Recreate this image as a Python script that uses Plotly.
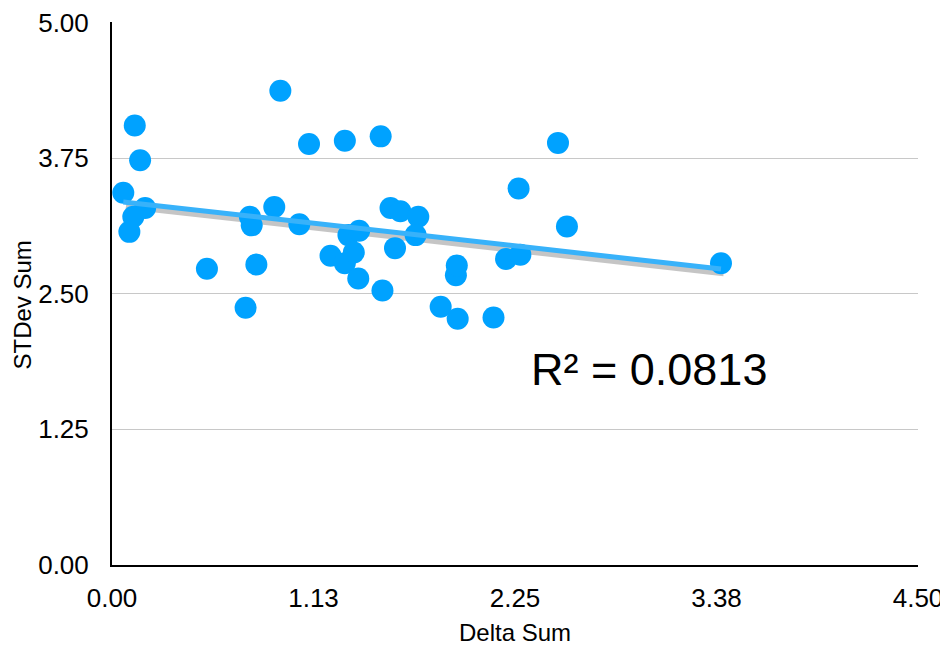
import numpy as np
import plotly.graph_objects as go

delta_sum = [0.063, 0.127, 0.157, 0.185, 0.119, 0.097, 0.53, 0.746, 0.77, 0.78,
             0.806, 0.906, 0.94, 1.046, 1.10, 1.22, 1.30, 1.30, 1.32, 1.35,
             1.38, 1.375, 1.50, 1.51, 1.555, 1.58, 1.61, 1.71, 1.695, 1.835,
             1.92, 1.925, 1.93, 2.13, 2.20, 2.27, 2.28, 2.49, 2.54, 3.40]
stdev_sum = [3.43, 4.05, 3.73, 3.29, 3.21, 3.07, 2.73, 2.37, 3.21, 3.13,
             2.77, 3.30, 4.37, 3.14, 3.88, 2.85, 3.91, 2.78, 3.04, 2.88,
             3.08, 2.64, 3.95, 2.53, 3.29, 2.92, 3.26, 3.21, 3.04, 2.38,
             2.67, 2.76, 2.27, 2.28, 2.82, 3.47, 2.86, 3.89, 3.12, 2.78]
x_ticks = [0, 1.125, 2.25, 3.375, 4.5]
x_tick_labels = ["0.00", "1.13", "2.25", "3.38", "4.50"]
y_ticks = [0, 1.25, 2.5, 3.75, 5.0]
y_tick_labels = ["0.00", "1.25", "2.50", "3.75", "5.00"]
r2_label = "R² = 0.0813"
x_title = "Delta Sum"
y_title = "STDev Sum"

xs = np.array(delta_sum)
ys = np.array(stdev_sum)
slope, intercept = np.polyfit(xs, ys, 1)
tx = np.array([xs.min(), xs.max()])
ty = slope * tx + intercept

FONT = "Liberation Sans, Arial, Helvetica, sans-serif"

fig = go.Figure()
fig.add_trace(go.Scatter(x=tx + 0.015, y=ty - 0.04, mode="lines",
                         line=dict(color="rgba(90,90,90,0.35)", width=6),
                         hoverinfo="skip", showlegend=False))
fig.add_trace(go.Scatter(x=delta_sum, y=stdev_sum, mode="markers",
                         marker=dict(color="#00a2ff", size=22, line=dict(width=0)),
                         showlegend=False))
fig.add_trace(go.Scatter(x=tx, y=ty, mode="lines",
                         line=dict(color="#38b2fa", width=5),
                         hoverinfo="skip", showlegend=False))

fig.add_annotation(x=2.33, y=1.80, xref="x", yref="y", text=r2_label,
                   showarrow=False, xanchor="left", yanchor="middle",
                   font=dict(family=FONT, size=45, color="black"))
fig.add_annotation(x=0.5, y=0, xref="paper", yref="paper", text=x_title,
                   showarrow=False, xanchor="center", yanchor="middle", yshift=-67,
                   font=dict(family=FONT, size=24, color="black"))
fig.add_annotation(x=0, y=0.5, xref="paper", yref="paper", text=y_title,
                   showarrow=False, xanchor="center", yanchor="middle", xshift=-90,
                   yshift=-12, textangle=-90,
                   font=dict(family=FONT, size=24, color="black"))

fig.update_layout(
    width=940, height=640,
    margin=dict(l=104, r=30, t=14, b=83),
    paper_bgcolor="white", plot_bgcolor="white",
    font=dict(family=FONT, size=26, color="black"),
)
fig.update_xaxes(
    range=[0, 4.5], tickvals=x_ticks, ticktext=x_tick_labels,
    showgrid=False, zeroline=False, automargin=False,
    showline=True, linecolor="black", linewidth=2,
    ticks="outside", ticklen=9, tickcolor="rgba(0,0,0,0)",
    tickfont=dict(family=FONT, size=26), ticklabeloverflow="allow",
)
fig.update_yaxes(
    range=[0, 5.004], tickvals=y_ticks, ticktext=y_tick_labels,
    showgrid=True, gridcolor="#c8c8c8", gridwidth=1.2, zeroline=False,
    automargin=False,
    showline=True, linecolor="black", linewidth=2,
    ticks="outside", ticklen=16, tickcolor="rgba(0,0,0,0)",
    tickfont=dict(family=FONT, size=26), ticklabeloverflow="allow",
)

fig.write_html("out.html")
